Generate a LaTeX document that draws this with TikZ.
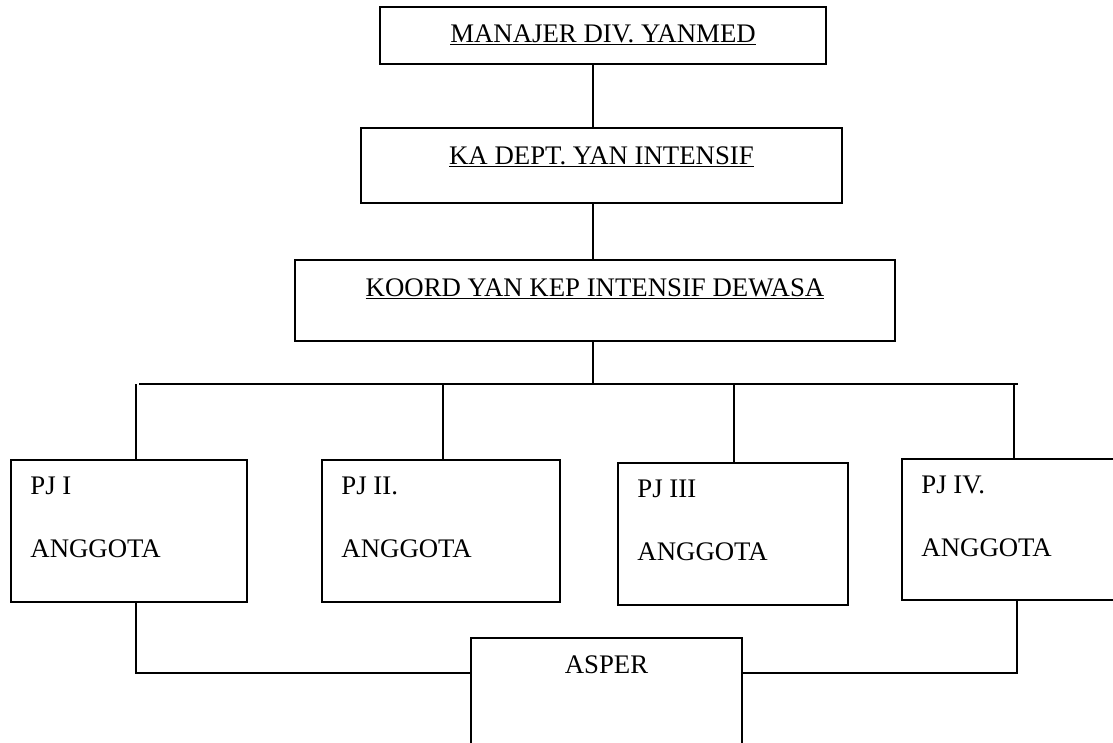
\documentclass[tikz,border=0pt]{standalone}
\usepackage{fontspec}
\setmainfont{Liberation Serif}
\usetikzlibrary{positioning}

\tikzset{
  org_box/.style={draw,rectangle,line width=1.5pt,inner sep=0pt},
  head_txt/.style={inner sep=0pt,font=\fontsize{26.8}{32}\selectfont},
  pj_txt/.style={inner sep=0pt,align=left,font=\fontsize{26.8}{63}\selectfont},
}

\begin{document}
\begin{tikzpicture}[
  x=1pt, y=-1pt,
  every node/.style={color=black},
  link line/.style={line width=1.5pt},
  ]
  \useasboundingbox (0,0) rectangle (1113,742);
  \clip (0,0) rectangle (1113,742);

  % top chain
  \node[org_box,minimum width=446pt,minimum height=57pt] (manajer) at (603,35.5) {};
  \node[org_box,minimum width=481pt,minimum height=75pt] (kadept) at (601.5,165.5) {};
  \node[org_box,minimum width=600pt,minimum height=81pt] (koord) at (595,300.5) {};

  \node[head_txt,below=18pt of manajer.north] (manajer_t) {\underline{MANAJER DIV. YANMED}};
  \node[head_txt,below=19pt of kadept.north] (kadept_t) {\underline{KA DEPT. YAN INTENSIF}};
  \node[head_txt,below=19pt of koord.north] (koord_t) {\underline{KOORD YAN KEP INTENSIF DEWASA}};

  % PJ boxes
  \node[org_box,minimum width=236pt,minimum height=142pt] (pj1) at (129,531) {};
  \node[org_box,minimum width=238pt,minimum height=142pt] (pj2) at (441,531) {};
  \node[org_box,minimum width=230pt,minimum height=142pt] (pj3) at (733,534) {};
  \node[org_box,minimum width=223pt,minimum height=141pt] (pj4) at (1013.5,529.5) {};
  \node[org_box,minimum width=271pt,minimum height=122pt] (asper) at (606.5,699) {};

  \node[pj_txt,below right=17pt and 20pt of pj1.north west] (pj1_t) {PJ I\\ANGGOTA};
  \node[pj_txt,below right=17pt and 20pt of pj2.north west] (pj2_t) {PJ II.\\ANGGOTA};
  \node[pj_txt,below right=17pt and 20pt of pj3.north west] (pj3_t) {PJ III\\ANGGOTA};
  \node[pj_txt,below right=17pt and 20pt of pj4.north west] (pj4_t) {PJ IV.\\ANGGOTA};
  \node[head_txt,below=18pt of asper.north] (asper_t) {ASPER};

  % connectors
  \coordinate (spine) at (593,0);
  \coordinate (bus_l) at (139,384);
  \coordinate (bus_r) at (1018,384);
  \coordinate (join) at (0,673);

  \draw[link line] (manajer.south -| spine) -- (kadept.north -| spine);
  \draw[link line] (kadept.south -| spine) -- (koord.north -| spine);
  \draw[link line] (koord.south -| spine) -- (spine |- bus_l);
  \draw[link line] (bus_l) -- (bus_r);

  \foreach \n/\x in {pj1/136, pj2/443, pj3/734, pj4/1014}{
    \draw[link line] (\x,0 |- bus_l) -- (\x,0 |- \n.north);
  }

  \draw[link line] (136,0 |- pj1.south) |- (asper.west |- join);
  \draw[link line] (1017,0 |- pj4.south) |- (asper.east |- join);

\end{tikzpicture}
\end{document}
